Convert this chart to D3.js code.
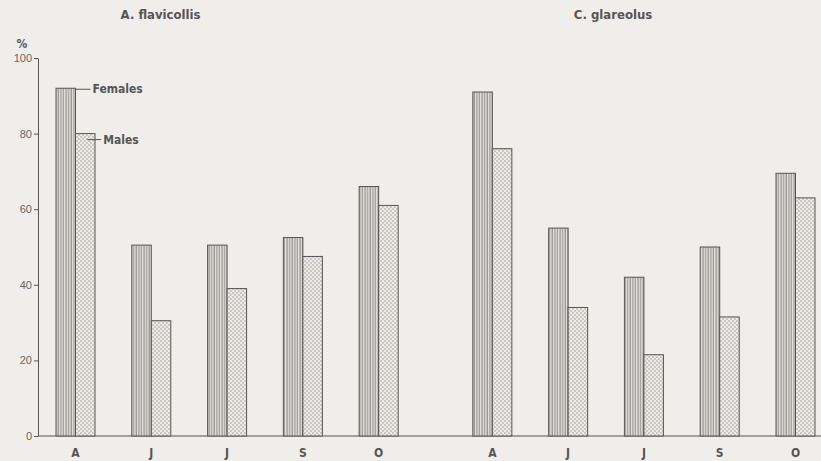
<!DOCTYPE html>
<html>
<head>
<meta charset="utf-8">
<script src="https://cdn.jsdelivr.net/npm/d3@7"></script>
<style>
  body { margin: 0; background: #efeeea; }
  svg { display: block; }
  .axis path, .axis line { stroke: #555; }
  .axis text { fill: #666; font-family: "Liberation Sans", sans-serif; font-size: 11px; }
  .lbl { fill: #555; font-family: "DejaVu Sans Condensed", "Liberation Sans", sans-serif; font-stretch: condensed; font-weight: bold; }
</style>
</head>
<body>
<svg id="chart" width="821" height="461"></svg>
<script>
var months = ["A", "J", "J", "S", "O"];
var flavicollisFemales = [92, 50.5, 50.5, 52.5, 66];
var flavicollisMales = [80, 30.5, 39, 47.5, 61];
var glareolusFemales = [91, 55, 42, 50, 69.5];
var glareolusMales = [76, 34, 21.5, 31.5, 63];
var yTicks = [0, 20, 40, 60, 80, 100];

var panels = [
  {title: "A. flavicollis", offset: 0, titleAt: 1.38, females: flavicollisFemales, males: flavicollisMales},
  {title: "C. glareolus", offset: 5.5, titleAt: 7.35, females: glareolusFemales, males: glareolusMales}
];

var svg = d3.select("#chart"),
    ink = "#555";

var x = d3.scaleLinear().domain([0, 9.5]).range([56, 776]),
    y = d3.scaleLinear().domain([0, 100]).range([436, 58]);

var barW = 19.5;

// hatch patterns
var defs = svg.append("defs");
var stripes = defs.append("pattern")
    .attr("id", "stripes").attr("patternUnits", "userSpaceOnUse")
    .attr("width", 2.6).attr("height", 10);
stripes.append("rect").attr("width", 2.6).attr("height", 10).attr("fill", "#e6e4df");
stripes.append("line").attr("x1", 1).attr("x2", 1).attr("y1", 0).attr("y2", 10)
    .attr("stroke", "#777").attr("stroke-width", 0.9);

var dots = defs.append("pattern")
    .attr("id", "dots").attr("patternUnits", "userSpaceOnUse")
    .attr("width", 4).attr("height", 4);
dots.append("rect").attr("width", 4).attr("height", 4).attr("fill", "#eceae5");
dots.append("circle").attr("cx", 1).attr("cy", 1).attr("r", 0.65).attr("fill", "#888");
dots.append("circle").attr("cx", 3).attr("cy", 3).attr("r", 0.65).attr("fill", "#888");

// y axis
var yAxis = svg.append("g")
    .attr("class", "axis")
    .attr("transform", "translate(38,0)")
    .call(d3.axisLeft(y).tickValues(yTicks).tickSize(4).tickPadding(2).tickSizeOuter(0));
yAxis.select(".domain").attr("stroke-width", 1);

svg.append("text").attr("class", "lbl")
    .attr("x", 22).attr("y", 48).attr("text-anchor", "middle")
    .attr("font-size", 12).text("%");

// baseline
svg.append("line")
    .attr("x1", 38).attr("x2", 821)
    .attr("y1", y(0)).attr("y2", y(0))
    .attr("stroke", ink).attr("stroke-width", 1);

panels.forEach(function(p) {
  var g = svg.append("g");

  g.append("text").attr("class", "lbl")
    .attr("x", x(p.titleAt))
    .attr("y", 19)
    .attr("text-anchor", "middle")
    .attr("font-size", 13)
    .text(p.title);

  g.selectAll(".f").data(p.females).enter().append("rect")
    .attr("class", "f")
    .attr("x", function(d, i) { return x(p.offset + i); })
    .attr("y", function(d) { return y(d); })
    .attr("width", barW)
    .attr("height", function(d) { return y(0) - y(d); })
    .attr("fill", "url(#stripes)")
    .attr("stroke", ink).attr("stroke-width", 1);

  g.selectAll(".m").data(p.males).enter().append("rect")
    .attr("class", "m")
    .attr("x", function(d, i) { return x(p.offset + i) + barW; })
    .attr("y", function(d) { return y(d); })
    .attr("width", barW)
    .attr("height", function(d) { return y(0) - y(d); })
    .attr("fill", "url(#dots)")
    .attr("stroke", ink).attr("stroke-width", 1);

  g.selectAll(".mon").data(months).enter().append("text")
    .attr("class", "lbl")
    .attr("x", function(d, i) { return x(p.offset + i) + barW; })
    .attr("y", 457)
    .attr("text-anchor", "middle")
    .attr("font-size", 12)
    .text(function(d) { return d; });
});

// legend leaders on first pair
var fx = x(0) + barW, fy = y(flavicollisFemales[0]) + 1;
svg.append("line").attr("x1", fx).attr("x2", fx + 15).attr("y1", fy).attr("y2", fy)
    .attr("stroke", ink);
svg.append("text").attr("class", "lbl").attr("x", fx + 17).attr("y", fy + 4)
    .attr("font-size", 12).text("Females");

var mx = x(0) + barW * 1.6, my = y(flavicollisMales[0]) + 6;
svg.append("line").attr("x1", mx).attr("x2", mx + 14).attr("y1", my).attr("y2", my)
    .attr("stroke", ink);
svg.append("text").attr("class", "lbl").attr("x", mx + 16).attr("y", my + 4)
    .attr("font-size", 12).text("Males");
</script>
</body>
</html>
